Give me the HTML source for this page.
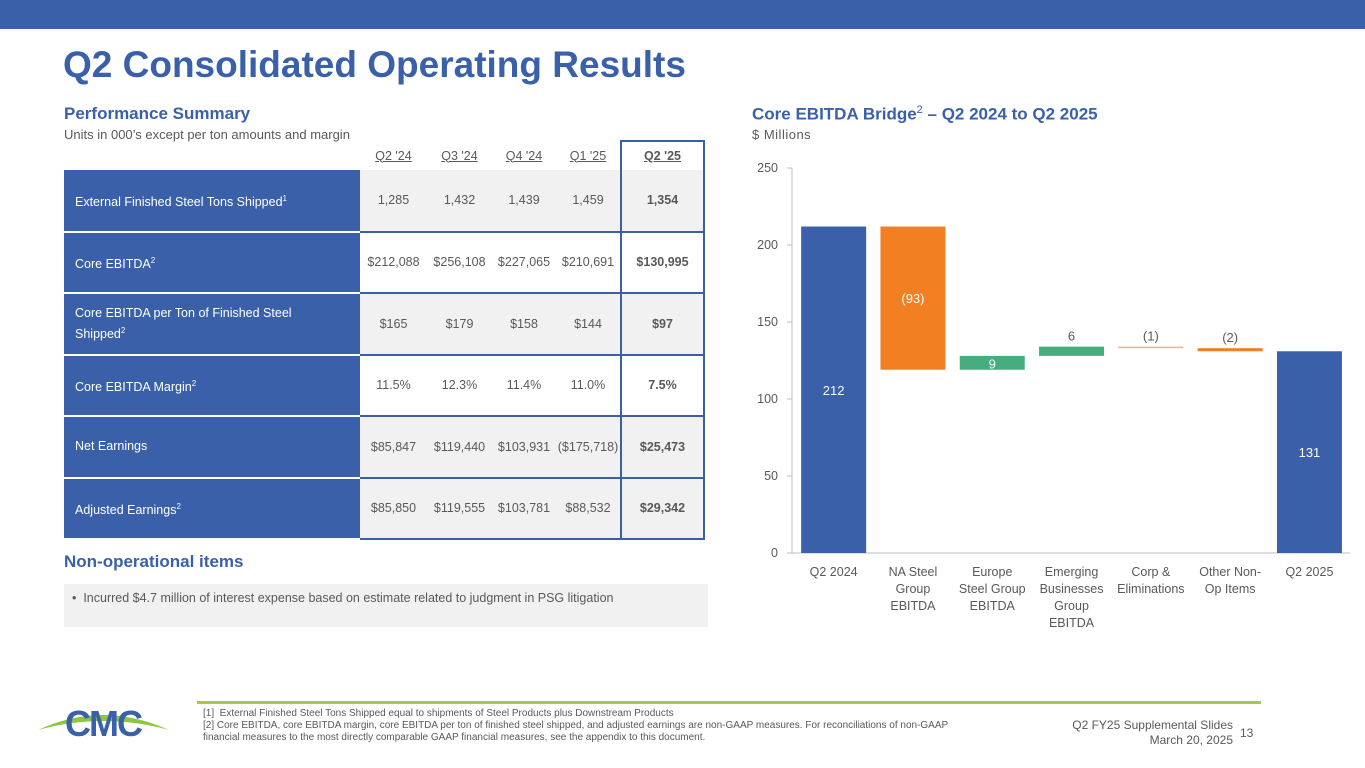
<!DOCTYPE html>
<html><head><meta charset="utf-8">
<style>
*{margin:0;padding:0;box-sizing:border-box}
body{width:1365px;height:768px;background:#fff;font-family:"Liberation Sans",sans-serif;position:relative;overflow:hidden;color:#595959}
.abs{position:absolute}
table{border-collapse:collapse;position:absolute;left:64px;top:140px;font-size:12.5px}
td{height:61.5px;text-align:center;border-bottom:2px solid #3a5fa8}
td.lab{background:#3a60aa;color:#fff;text-align:left;padding-left:11px;width:296px;border-bottom:2px solid #fff;font-size:12.5px;line-height:17px}
tr.hd td{height:29px;border-bottom:none;text-decoration:underline;font-size:12.5px}
tr.g td.v{background:#f1f1f1}
td.q{border-left:2px solid #3a5fa8;border-right:2px solid #3a5fa8;font-weight:bold}
sup{font-size:8px}
</style></head><body>
<div class="abs" style="left:0;top:0;width:1365px;height:29px;background:#3a60aa"></div>
<div class="abs" style="left:63px;top:44px;font-size:37px;font-weight:bold;color:#3a60aa">Q2 Consolidated Operating Results</div>
<div class="abs" style="left:64px;top:104px;font-size:17px;font-weight:bold;color:#3a60aa">Performance Summary</div>
<div class="abs" style="left:64px;top:127px;font-size:13px">Units in 000’s except per ton amounts and margin</div>
<table>
<tr class="hd"><td style="width:0;padding:0"></td><td style="width:67px">Q2 '24</td><td style="width:65px">Q3 '24</td><td style="width:64px">Q4 '24</td><td style="width:65px">Q1 '25</td><td class="q" style="width:83px;border-top:2px solid #3a5fa8">Q2 '25</td></tr>
<tr class="g"><td class="lab">External Finished Steel Tons Shipped<sup>1</sup></td><td class="v">1,285</td><td class="v">1,432</td><td class="v">1,439</td><td class="v">1,459</td><td class="v q">1,354</td></tr>
<tr><td class="lab">Core EBITDA<sup>2</sup></td><td>$212,088</td><td>$256,108</td><td>$227,065</td><td>$210,691</td><td class="q">$130,995</td></tr>
<tr class="g"><td class="lab">Core EBITDA per Ton of Finished Steel<br>Shipped<sup>2</sup></td><td class="v">$165</td><td class="v">$179</td><td class="v">$158</td><td class="v">$144</td><td class="v q">$97</td></tr>
<tr><td class="lab">Core EBITDA Margin<sup>2</sup></td><td>11.5%</td><td>12.3%</td><td>11.4%</td><td>11.0%</td><td class="q">7.5%</td></tr>
<tr class="g"><td class="lab">Net Earnings</td><td class="v">$85,847</td><td class="v">$119,440</td><td class="v">$103,931</td><td class="v">($175,718)</td><td class="v q">$25,473</td></tr>
<tr class="g"><td class="lab">Adjusted Earnings<sup>2</sup></td><td class="v">$85,850</td><td class="v">$119,555</td><td class="v">$103,781</td><td class="v">$88,532</td><td class="v q">$29,342</td></tr>
</table>
<div class="abs" style="left:64px;top:552px;font-size:17px;font-weight:bold;color:#3a60aa">Non-operational items</div>
<div class="abs" style="left:64px;top:584px;width:644px;height:43px;background:#f1f1f1;font-size:12.5px;padding:7px 0 0 8px">•&nbsp; Incurred $4.7 million of interest expense based on estimate related to judgment in PSG litigation</div>

<div class="abs" style="left:752px;top:104px;font-size:17px;font-weight:bold;color:#3a60aa">Core EBITDA Bridge<span style="font-weight:normal;font-size:11px;vertical-align:super">2</span> – Q2 2024 to Q2 2025</div>
<div class="abs" style="left:752px;top:127px;font-size:13px;letter-spacing:0.5px">$ Millions</div>
<svg class="abs" id="chart" style="left:0;top:0" width="1365" height="768"></svg>

<div class="abs" style="left:197px;top:701px;width:1064px;height:3px;background:#a6c94a"></div>
<div class="abs" style="left:36px;top:698px;width:135px;height:42px">
<svg width="135" height="42"><path d="M2 32 Q67 2 133 32 Q67 14 2 32Z" fill="#8dc63f"/><text x="67" y="38" text-anchor="middle" font-family="Liberation Sans" font-weight="bold" font-size="36" fill="#3a60aa" letter-spacing="-2">CMC</text></svg></div>
<div class="abs" style="left:203px;top:708px;width:760px;font-size:10px;line-height:12px">[1]&nbsp; External Finished Steel Tons Shipped equal to shipments of Steel Products plus Downstream Products<br>[2] Core EBITDA, core EBITDA margin, core EBITDA per ton of finished steel shipped, and adjusted earnings are non-GAAP measures. For reconciliations of non-GAAP financial measures to the most directly comparable GAAP financial measures, see the appendix to this document.</div>
<div class="abs" style="left:1030px;top:718px;width:203px;text-align:right;font-size:12px;line-height:15px">Q2 FY25 Supplemental Slides<br>March 20, 2025</div>
<div class="abs" style="left:1240px;top:726px;font-size:12px">13</div>

<script>
const categories=["Q2 2024","NA Steel Group EBITDA","Europe Steel Group EBITDA","Emerging Businesses Group EBITDA","Corp & Eliminations","Other Non-Op Items","Q2 2025"];
const catLines=[["Q2 2024"],["NA Steel","Group","EBITDA"],["Europe","Steel Group","EBITDA"],["Emerging","Businesses","Group","EBITDA"],["Corp &","Eliminations"],["Other Non-","Op Items"],["Q2 2025"]];
const values=[212,-93,9,6,-1,-2,131];
const kinds=["total","delta","delta","delta","delta","delta","total"];
const labels=["212","(93)","9","6","(1)","(2)","131"];
const yTicks=[0,50,100,150,200,250];
const NS="http://www.w3.org/2000/svg";
const svg=document.getElementById('chart');
const y0=553,y1=168,yMax=250;
const y=v=>y0-(v/yMax)*(y0-y1);
const xL=794,step=79.3,bw=65;
const xc=i=>xL+step*i+step/2;
function mk(t,a){const e=document.createElementNS(NS,t);for(const k in a)e.setAttribute(k,a[k]);svg.appendChild(e);return e;}
let ax=mk('line',{x1:792,y1:y1,x2:792,y2:y0,stroke:'#bfbfbf'});

let bx=mk('line',{x1:792,y1:y0,x2:1350,y2:y0,stroke:'#bfbfbf'});

yTicks.forEach(t=>{
 mk('line',{x1:787,y1:y(t),x2:792,y2:y(t),stroke:'#bfbfbf'});
 const tx=mk('text',{x:778,y:y(t)+4,'text-anchor':'end','font-size':12.5,fill:'#595959','font-family':'Liberation Sans'});
 tx.textContent=t;
 
});
let run=0;
values.forEach((v,i)=>{
 let top,bot,col;
 if(kinds[i]==="total"){top=v;bot=0;run=v;col='#3a60aa';}
 else{const nr=run+v;top=Math.max(run,nr);bot=Math.min(run,nr);run=nr;col=v<0?'#f28023':'#46ad7f';}
 const h=Math.max(y(bot)-y(top),1);
 const r=mk('rect',{x:xc(i)-bw/2,y:y(top),width:bw,height:h,fill:col,opacity:(i==4?0.6:1)});
 
 let ly,lc;
 if(kinds[i]==="total"){ly=(y(top)+y(bot))/2+5;lc='#fff';}
 else if(h>20){ly=(y(top)+y(bot))/2+5;lc='#fff';}
 else if(i==2){ly=y(top)+h-1;lc='#fff';}
 else{ly=y(top)-6;lc='#595959';}
 const lt=mk('text',{x:xc(i),y:ly,'text-anchor':'middle','font-size':13,fill:lc,'font-family':'Liberation Sans'});
 lt.textContent=labels[i];
 
 catLines[i].forEach((s,j)=>{
  const c=mk('text',{x:xc(i),y:576+j*17,'text-anchor':'middle','font-size':12.5,fill:'#595959','font-family':'Liberation Sans'});
  c.textContent=s;
  
 });
});
</script>
</body></html>
